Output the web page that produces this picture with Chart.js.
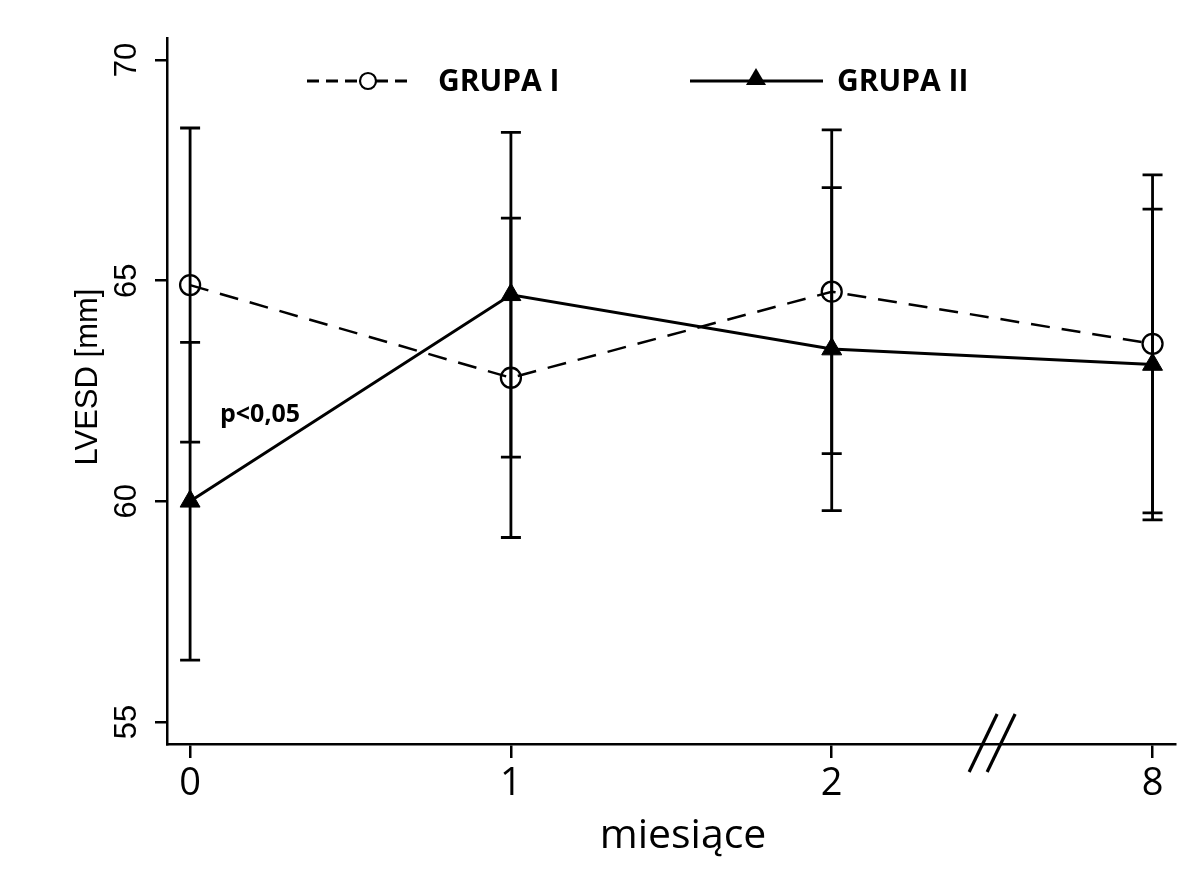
<!DOCTYPE html>
<html>
<head>
<meta charset="utf-8">
<script src="https://cdn.jsdelivr.net/npm/chart.js@4.4.0/dist/chart.umd.min.js"></script>
<style>
    html, body { margin: 0; padding: 0; background: #fff; }
    canvas { display: block; }
</style>
</head>
<body>
<canvas id="lvesd" width="1201" height="872"></canvas>
<script>
// months of follow-up (x axis is broken between 2 and 8)
const months = ['0', '1', '2', '8'];

// LVESD [mm], mean and SD per visit
const grupa1Mean = [64.9, 62.8, 64.75, 63.57];
const grupa1Sd = [3.56, 3.62, 3.67, 3.83];
const grupa2Mean = [60.0, 64.68, 63.45, 63.1];
const grupa2Sd = [3.6, 3.68, 3.66, 3.52];

const yTicks = [55, 60, 65, 70];
const groupNames = ['GRUPA I', 'GRUPA II'];
const pNote = 'p<0,05';

const toPoints = (means) => means.map((v, i) => ({ x: i, y: v }));

// vertical whiskers with caps, drawn under the lines
const errorBars = {
    id: 'errorBars',
    beforeDatasetsDraw(chart) {
        const { ctx, scales: { x, y } } = chart;
        ctx.save();
        ctx.strokeStyle = '#000';
        ctx.lineWidth = 2.8;
        chart.data.datasets.forEach(ds => {
            ds.data.forEach((p, i) => {
                const px = x.getPixelForValue(p.x);
                const top = y.getPixelForValue(p.y + ds.sd[i]);
                const bot = y.getPixelForValue(p.y - ds.sd[i]);
                ctx.beginPath();
                ctx.moveTo(px, top);
                ctx.lineTo(px, bot);
                ctx.moveTo(px - 10, top);
                ctx.lineTo(px + 10, top);
                ctx.moveTo(px - 10, bot);
                ctx.lineTo(px + 10, bot);
                ctx.stroke();
            });
        });
        ctx.restore();
    }
};

// rotated y labels, axis titles, axis break, legend and the p-value note
const extras = {
    id: 'extras',
    afterDraw(chart) {
        const { ctx, scales: { x, y } } = chart;
        ctx.save();
        ctx.fillStyle = '#000';
        ctx.strokeStyle = '#000';

        ctx.font = '31px "Liberation Sans", Arial, sans-serif';
        ctx.textAlign = 'center';
        ctx.textBaseline = 'middle';
        yTicks.forEach(v => {
            ctx.save();
            ctx.translate(127, y.getPixelForValue(v));
            ctx.rotate(-Math.PI / 2);
            ctx.fillText(String(v), 0, 0);
            ctx.restore();
        });
        ctx.save();
        ctx.translate(88, 377);
        ctx.rotate(-Math.PI / 2);
        ctx.fillText('LVESD [mm]', 0, 0);
        ctx.restore();

        ctx.font = '41px "Open Sans", sans-serif';
        ctx.fillText('miesiące', 683, 836);

        // break marks between 2 and 8
        const bx = x.getPixelForValue(2.5);
        const by = y.bottom;
        ctx.lineWidth = 3.2;
        [-9, 9].forEach(off => {
            ctx.beginPath();
            ctx.moveTo(bx + off - 14, by + 28);
            ctx.lineTo(bx + off + 14, by - 30);
            ctx.stroke();
        });

        // legend
        const ly = 81;
        ctx.lineWidth = 3;
        ctx.setLineDash([12, 7]);
        ctx.beginPath();
        ctx.moveTo(307, ly);
        ctx.lineTo(360, ly);
        ctx.moveTo(376, ly);
        ctx.lineTo(412, ly);
        ctx.stroke();
        ctx.setLineDash([]);
        ctx.lineWidth = 2.2;
        ctx.beginPath();
        ctx.arc(368, ly, 8, 0, Math.PI * 2);
        ctx.stroke();

        ctx.lineWidth = 2.8;
        ctx.beginPath();
        ctx.moveTo(690, ly);
        ctx.lineTo(823, ly);
        ctx.stroke();
        ctx.beginPath();
        ctx.moveTo(756, ly - 13);
        ctx.lineTo(766, ly + 4);
        ctx.lineTo(746, ly + 4);
        ctx.closePath();
        ctx.fill();

        ctx.font = 'bold 30px "Open Sans", sans-serif';
        ctx.textAlign = 'left';
        ctx.fillText(groupNames[0], 438, ly + 1);
        ctx.fillText(groupNames[1], 837, ly + 1);

        ctx.font = 'bold 25px "Open Sans", sans-serif';
        ctx.fillText(pNote, 220, 415);
        ctx.restore();
    }
};

new Chart(document.getElementById('lvesd'), {
    type: 'line',
    data: {
        datasets: [{
            label: groupNames[0],
            data: toPoints(grupa1Mean),
            sd: grupa1Sd,
            borderColor: '#000',
            borderWidth: 2.5,
            borderDash: [19, 12],
            pointStyle: 'circle',
            pointRadius: 10,
            pointBorderWidth: 2.3,
            pointBorderColor: '#000',
            pointBackgroundColor: 'rgba(0,0,0,0)',
            fill: false,
            tension: 0
        }, {
            label: groupNames[1],
            data: toPoints(grupa2Mean),
            sd: grupa2Sd,
            borderColor: '#000',
            borderWidth: 3,
            pointStyle: 'triangle',
            pointRadius: 11.5,
            pointBorderWidth: 1,
            pointBorderColor: '#000',
            pointBackgroundColor: '#000',
            fill: false,
            tension: 0
        }]
    },
    options: {
        responsive: false,
        animation: false,
        devicePixelRatio: 1,
        layout: { padding: { top: 38, right: 26, left: 0, bottom: 0 } },
        plugins: {
            legend: { display: false },
            tooltip: { enabled: false }
        },
        scales: {
            x: {
                type: 'linear',
                min: -0.072,
                max: 3.07,
                afterBuildTicks: scale => {
                    scale.ticks = months.map((m, i) => ({ value: i }));
                },
                afterFit: scale => { scale.height = 128; },
                ticks: {
                    callback: v => months[v],
                    autoSkip: false,
                    maxRotation: 0,
                    color: '#000',
                    padding: 3,
                    font: { family: 'Open Sans', size: 38 }
                },
                grid: {
                    drawOnChartArea: false,
                    tickLength: 14,
                    color: '#000',
                    lineWidth: 2.5
                },
                border: { color: '#000', width: 2.5 }
            },
            y: {
                min: 54.5,
                max: 70.5,
                afterBuildTicks: scale => {
                    scale.ticks = yTicks.map(v => ({ value: v }));
                },
                afterFit: scale => { scale.width = 167; },
                ticks: { display: false },
                grid: {
                    drawOnChartArea: false,
                    tickLength: 12,
                    color: '#000',
                    lineWidth: 2.5
                },
                border: { color: '#000', width: 2.5 }
            }
        }
    },
    plugins: [errorBars, extras]
});
</script>
</body>
</html>
